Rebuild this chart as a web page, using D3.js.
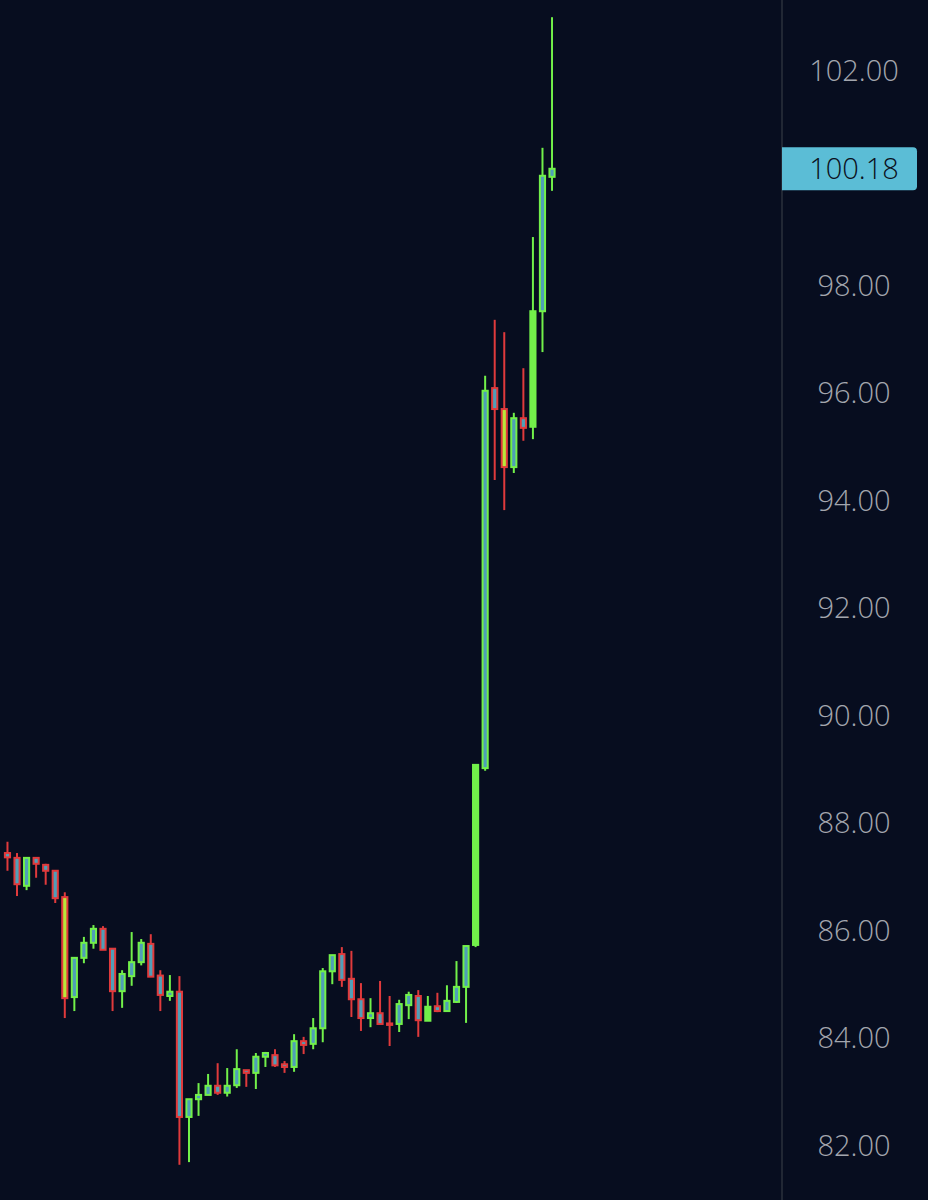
<!DOCTYPE html>
<html><head><meta charset="utf-8">
<script src="https://cdn.jsdelivr.net/npm/d3@7"></script>
<style>
html,body{margin:0;padding:0;background:#070d1f;}
svg{display:block;}
</style></head>
<body><div id="chart"></div>
<script>
// open, high, low, close
var opens  = [87.45,87.36,86.84,87.36,87.23,87.12,86.63,84.77,85.50,85.78,86.04,85.67,84.88,85.16,85.42,85.76,85.17,84.79,84.87,82.54,82.87,82.95,83.12,82.99,83.13,83.41,83.36,83.66,83.69,83.52,83.47,83.95,83.90,84.19,85.25,85.57,85.11,84.73,84.38,84.47,84.28,84.27,84.62,84.79,84.33,84.60,84.51,84.68,84.96,85.74,89.03,96.10,95.71,94.63,95.54,95.38,97.53,100.03];
var highs  = [87.66,87.45,87.36,87.36,87.25,87.12,86.72,85.50,85.89,86.11,86.09,85.67,85.27,85.98,85.85,85.94,85.27,85.18,85.16,82.87,83.17,83.34,83.54,83.45,83.80,83.41,83.73,83.75,83.80,83.58,84.08,84.03,84.38,85.31,85.55,85.70,85.63,85.03,84.75,85.07,84.79,84.72,84.87,84.90,84.79,84.85,84.99,85.44,85.72,89.09,96.33,97.37,97.14,95.64,96.47,98.91,100.57,103.00];
var lows   = [87.12,86.65,86.76,86.99,86.86,86.52,84.38,84.51,85.40,85.67,85.65,84.51,84.57,84.98,85.36,85.15,84.51,84.70,81.65,81.70,82.56,82.95,82.95,82.92,83.08,83.10,83.06,83.47,83.47,83.36,83.38,83.71,83.80,83.93,85.01,84.96,84.40,84.14,84.21,84.27,83.86,84.12,84.36,84.03,84.33,84.49,84.51,84.66,84.29,85.70,88.98,94.39,93.83,94.52,95.12,95.15,96.77,99.77];
var closes = [87.37,86.87,87.36,87.25,87.12,86.61,84.75,85.50,85.78,86.04,85.65,84.88,85.20,85.42,85.78,85.15,84.81,84.87,82.54,82.87,82.95,83.12,82.99,83.12,83.43,83.36,83.66,83.73,83.50,83.47,83.95,83.88,84.19,85.25,85.55,85.09,84.73,84.38,84.47,84.27,84.27,84.64,84.81,84.34,84.59,84.51,84.70,84.96,85.72,89.09,96.05,95.71,94.63,95.54,95.36,97.53,100.05,100.18];
var solid_green = [44, 49, 55]; // candles drawn with a filled green body
var yellow_fill = [6, 52];      // red outline with a yellow-green body
var tick_labels = [82,84,86,88,90,92,94,96,98,102]; // 100.00 sits under the price tag
var last_price = 100.18;

var W = 928, H = 1200, axis_x = 782;

var svg = d3.select('#chart').append('svg').attr('width', W).attr('height', H);
svg.append('rect').attr('width', W).attr('height', H).attr('fill', '#070d1f');

var y = d3.scaleLinear().domain([80.995, 103.32]).range([H, 0]);
var x = d3.scaleBand().domain(d3.range(opens.length)).range([1.5, 558]).padding(0.25);

//price axis
svg.append('line').attr('x1', axis_x).attr('x2', axis_x).attr('y1', 0).attr('y2', H)
	.attr('stroke', '#2b303d').attr('stroke-width', 1.5);

var axis = svg.append('g').attr('transform', 'translate(' + axis_x + ',0)')
	.call(d3.axisRight(y).tickValues(tick_labels).tickSize(0).tickPadding(20).tickFormat(d3.format('.2f')));
axis.select('.domain').remove();
axis.selectAll('text').attr('fill', '#a3a6ae').attr('font-size', 29).attr('font-weight', 300)
	.attr('font-family', '"Open Sans", "Noto Sans", sans-serif').attr('x', 72).attr('text-anchor', 'middle');

var candles = svg.append('g').selectAll('g').data(opens).join('g');
candles.each(function(o, i){
	var up = closes[i] >= o;
	var col = up ? '#72f04a' : '#e03a3c';
	var cx = x(i) + x.bandwidth() / 2;
	var g = d3.select(this);
	g.append('line').attr('x1', cx).attr('x2', cx).attr('y1', y(highs[i])).attr('y2', y(lows[i]))
		.attr('stroke', col).attr('stroke-width', 2);
	var top = y(Math.max(o, closes[i])), bot = y(Math.min(o, closes[i]));
	var fill = '#4f9fb8';
	if (solid_green.indexOf(i) >= 0) fill = '#72f04a';
	if (yellow_fill.indexOf(i) >= 0) fill = '#b8e83a';
	g.append('rect').attr('x', x(i) + 1).attr('y', top).attr('width', x.bandwidth() - 2)
		.attr('height', Math.max(bot - top, 1.5))
		.attr('fill', fill).attr('stroke', col).attr('stroke-width', 2);
});

//last price tag
var tag = svg.append('g').attr('transform', 'translate(' + axis_x + ',' + y(last_price) + ')');
tag.append('path').attr('d', 'M0,-21.5 H131 a4,4 0 0 1 4,4 V17.5 a4,4 0 0 1 -4,4 H0 Z').attr('fill', '#5bbdd6');
tag.append('text').attr('x', 72).attr('y', 10).attr('text-anchor', 'middle').attr('font-weight', 300)
	.attr('font-size', 29).attr('font-family', '"Open Sans", "Noto Sans", sans-serif').attr('fill', '#0b1020')
	.text(d3.format('.2f')(last_price));
</script>
</body></html>
